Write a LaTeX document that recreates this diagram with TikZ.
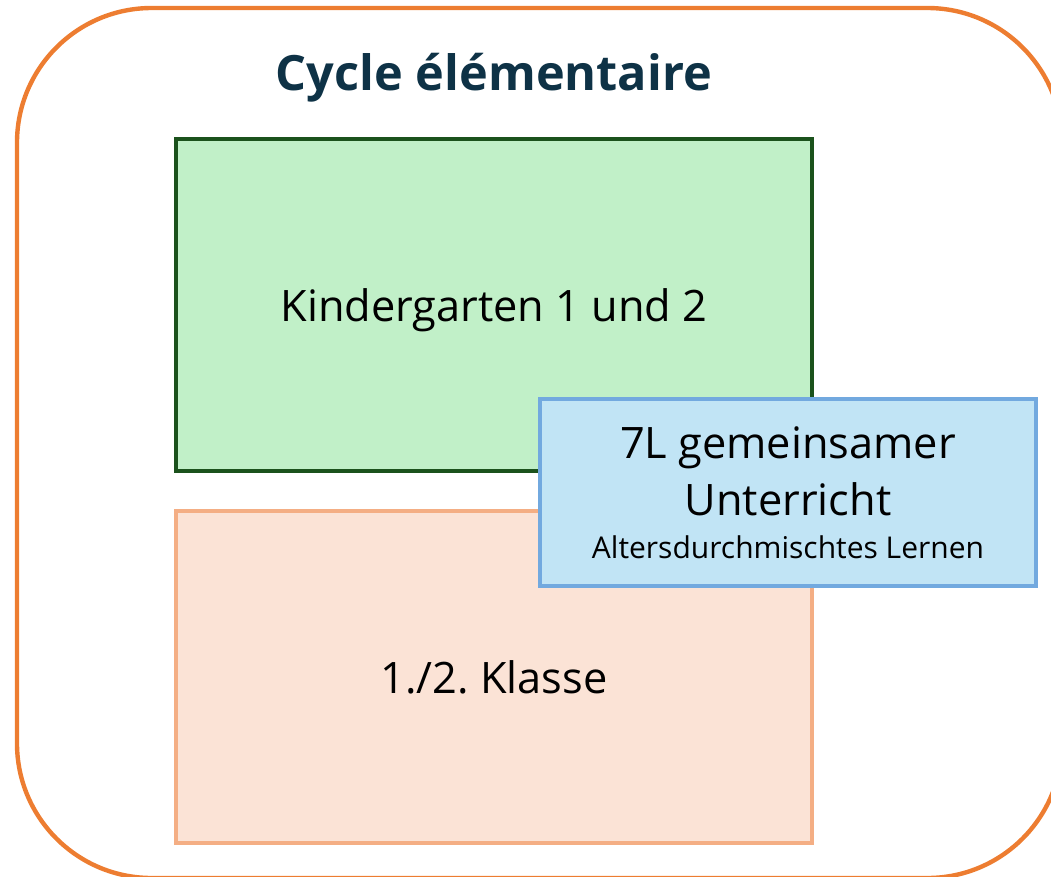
\documentclass[tikz,border=0pt]{standalone}
\usepackage{fontspec}
\setmainfont{Open Sans}
\usetikzlibrary{positioning}
\definecolor{framecol}{HTML}{ED7D31}
\definecolor{titlecol}{HTML}{0E3246}
\definecolor{kgfill}{HTML}{C1F0C8}
\definecolor{kgline}{HTML}{1B521C}
\definecolor{klfill}{HTML}{FBE3D6}
\definecolor{klline}{HTML}{F4AE84}
\definecolor{ufill}{HTML}{C1E4F5}
\definecolor{uline}{HTML}{72A9DF}
\frenchspacing

\begin{document}
\begin{tikzpicture}[x=0.75pt, y=-0.75pt, node distance=27.5pt,
  box/.style={draw, rectangle, line width=2.7pt, align=center, inner sep=0pt,
    font=\fontsize{32.5}{42.75}\selectfont},
  bigbox/.style={box, text depth=0pt, minimum width=477pt, minimum height=249pt}]
\useasboundingbox (0,0) rectangle (1051,876);
\clip (0,0) rectangle (1051,876);
% frame
\draw[framecol, line width=3.3pt, rounded corners=101pt] (17,8) rectangle (1062,878);
\node[titlecol, font=\bfseries\fontsize{36.5}{40}\selectfont] (title) at (494,78) {Cycle élémentaire};
% the two stages
\node[bigbox, draw=kgline, fill=kgfill] (kg) at (494,305) {Kindergarten 1 und 2};
\node[bigbox, draw=klline, fill=klfill] (kl) [below=of kg] {1./2. Klasse};
% shared lessons
\node[box, draw=uline, fill=ufill, text depth=-4.5pt, minimum width=372pt, minimum height=140pt] (joint) at (788,492.5)
  {7L gemeinsamer\\Unterricht\\[-10.5pt]{\fontsize{22.5}{27}\selectfont Altersdurchmischtes Lernen}};
\end{tikzpicture}
\end{document}
